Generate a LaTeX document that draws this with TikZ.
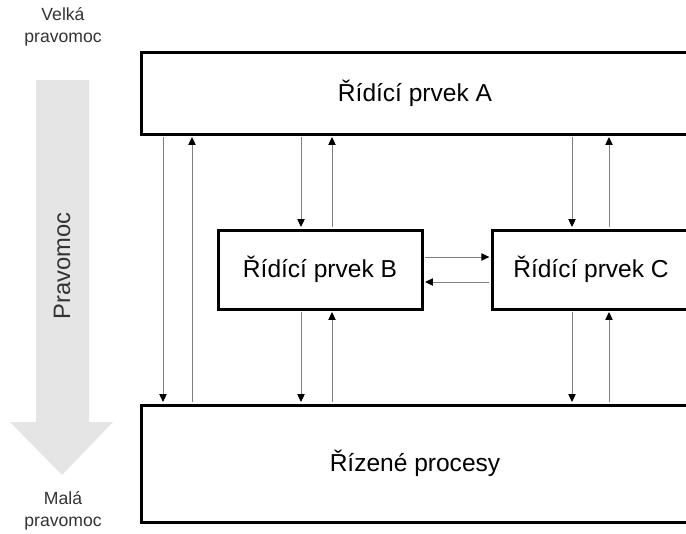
\documentclass[tikz,border=0pt]{standalone}
\usepackage{fontspec}
\setmainfont{Liberation Sans}
\usetikzlibrary{arrows.meta}
\begin{document}
\begin{tikzpicture}[x=0.75pt,y=-0.75pt,>={Triangle[width=5.5pt,length=6pt,color=black]},line join=miter,
  box/.style={draw,line width=2.25pt,inner sep=0pt,font=\fontsize{18.4}{22}\selectfont},
  link/.style={draw=black!50,line width=0.75pt,shorten >=1.1pt,shorten <=1.1pt},
  side/.style={font=\fontsize{13.2}{17}\selectfont,text=black!80,align=center}]
\clip (0,0) rectangle (686,533);
%%
  \fill [black!10] (36,80) -- (89,80) -- (89,422) -- (113,422) -- (62,475) -- (10,422) -- (36,422) -- cycle;
  \node (big) at (63,27) [side] {Velká\\pravomoc};
  \node (small) at (63,511) [side] {Malá\\pravomoc};
  \node (axis) at (62,266) [rotate=90,font=\fontsize{17.8}{20}\selectfont,text=black!80] {Pravomoc};

  \node (ctrlA) at (415,93) [box,minimum width=411pt,minimum height=61.5pt] {Řídící prvek A};
  \node (ctrlB) at (320,269.5) [box,minimum width=153pt,minimum height=59.25pt] {Řídící prvek B};
  \node (ctrlC) at (591,269.5) [box,minimum width=148pt,minimum height=59.25pt] {Řídící prvek C};
  \node (proc) at (415,463.5) [box,minimum width=411pt,minimum height=87.75pt] {Řízené procesy};

  \coordinate (c1) at (163,0);
  \coordinate (c2) at (192,0);
  \coordinate (c3) at (301,0);
  \coordinate (c4) at (332,0);
  \coordinate (c5) at (572,0);
  \coordinate (c6) at (609,0);
  \coordinate (r1) at (0,257);
  \coordinate (r2) at (0,282);

  \draw [link,->] (ctrlA.south -| c1) -- (proc.north -| c1);
  \draw [link,->] (proc.north -| c2) -- (ctrlA.south -| c2);
  \draw [link,->] (ctrlA.south -| c3) -- (ctrlB.north -| c3);
  \draw [link,->] (ctrlB.north -| c4) -- (ctrlA.south -| c4);
  \draw [link,->] (ctrlB.south -| c3) -- (proc.north -| c3);
  \draw [link,->] (proc.north -| c4) -- (ctrlB.south -| c4);
  \draw [link,->] (ctrlA.south -| c5) -- (ctrlC.north -| c5);
  \draw [link,->] (ctrlC.north -| c6) -- (ctrlA.south -| c6);
  \draw [link,->] (ctrlC.south -| c5) -- (proc.north -| c5);
  \draw [link,->] (proc.north -| c6) -- (ctrlC.south -| c6);
  \draw [link,->] (ctrlB.east |- r1) -- (ctrlC.west |- r1);
  \draw [link,->] (ctrlC.west |- r2) -- (ctrlB.east |- r2);

\end{tikzpicture}
\end{document}
